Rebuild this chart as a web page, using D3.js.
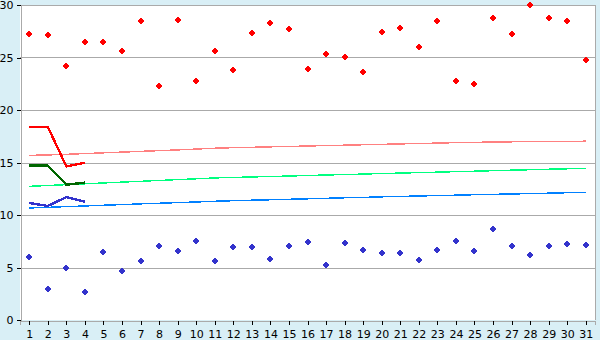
<!DOCTYPE html>
<html><head><meta charset="utf-8">
<script src="https://cdn.jsdelivr.net/npm/d3@7"></script>
<style>html,body{margin:0;padding:0;background:#d9eff6;}svg{display:block;}</style>
</head><body><div id="chart"></div>
<script>
const days = d3.range(1, 32).map(String);
const yTicks = [0, 5, 10, 15, 20, 25, 30];
const highPoints = [27.2,27.1,24.15,26.5,26.5,25.6,28.5,22.25,28.6,22.8,25.6,23.8,27.3,28.25,27.7,23.95,25.3,25.0,23.6,27.4,27.8,25.97,28.45,22.8,22.5,28.8,27.2,29.97,28.8,28.45,24.8];
const lowPoints = [5.97,3.0,5.0,2.63,6.45,4.63,5.59,7.02,6.54,7.49,5.59,6.92,6.92,5.78,7.02,7.4,5.21,7.3,6.63,6.35,6.35,5.68,6.63,7.49,6.54,8.63,7.02,6.16,7.02,7.21,7.11];
const pinkTrend = [15.68,15.72,15.78,15.85,15.92,15.99,16.06,16.13,16.2,16.28,16.36,16.41,16.45,16.49,16.53,16.57,16.61,16.65,16.69,16.73,16.77,16.81,16.85,16.89,16.92,16.95,16.97,16.99,17.01,17.02,17.03];
const greenTrend = [12.73,12.81,12.89,12.97,13.05,13.13,13.21,13.29,13.37,13.45,13.53,13.58,13.62,13.67,13.71,13.76,13.81,13.85,13.9,13.95,13.99,14.04,14.08,14.13,14.17,14.22,14.27,14.31,14.36,14.4,14.45];
const blueTrend = [10.67,10.73,10.8,10.86,10.93,10.99,11.06,11.12,11.18,11.24,11.31,11.36,11.41,11.45,11.5,11.54,11.59,11.64,11.68,11.73,11.77,11.81,11.85,11.89,11.93,11.97,12.0,12.04,12.08,12.12,12.16];
const redShort = [18.4,18.4,14.62,14.98];
const greenShort = [14.7,14.7,12.89,13.08];
const blueShort = [11.14,10.86,11.71,11.27];

const W = 600, H = 340;
const m = {left: 20, right: 5, top: 5, bottom: 20};
const svg = d3.select("#chart").append("svg").attr("width", W).attr("height", H)
  .style("font-family", "'DejaVu Sans', Verdana, sans-serif").style("font-size", "11px");
svg.append("rect").attr("width", W).attr("height", H).attr("fill", "#d9eff6");

const x = d3.scalePoint().domain(days).range([m.left, W - m.right]).padding(0.5);
const y = d3.scaleLinear().domain([0, 30]).range([H - m.bottom, m.top]);

svg.append("rect").attr("x", m.left).attr("y", m.top)
  .attr("width", W - m.right - m.left).attr("height", H - m.bottom - m.top).attr("fill", "#fff");

// grid
svg.append("g").selectAll("line").data(yTicks.slice(1)).join("line")
  .attr("x1", m.left).attr("x2", W - m.right)
  .attr("y1", d => Math.round(y(d)) + 0.5).attr("y2", d => Math.round(y(d)) + 0.5)
  .attr("stroke", "#aaaaaa").attr("stroke-width", 1).attr("shape-rendering", "crispEdges");
// right border
svg.append("line").attr("x1", W - m.right + 0.5).attr("x2", W - m.right + 0.5)
  .attr("y1", m.top).attr("y2", H - m.bottom)
  .attr("stroke", "#aaaaaa").attr("shape-rendering", "crispEdges");

// axes
const yAxis = svg.append("g").attr("transform", `translate(${m.left + 0.5},0)`)
  .call(d3.axisLeft(y).tickValues(yTicks).tickSize(4).tickPadding(3));
const xAxis = svg.append("g").attr("transform", `translate(0,${H - m.bottom + 0.5})`)
  .call(d3.axisBottom(x).tickSize(4).tickPadding(6));
[yAxis, xAxis].forEach(g => {
  g.attr("font-family", null).attr("font-size", null);
  g.select(".domain").attr("stroke", "#aaaaaa").attr("shape-rendering", "crispEdges");
  g.selectAll(".tick line").attr("stroke", "#000").attr("shape-rendering", "crispEdges");
  g.selectAll("text").attr("fill", "#000");
});

const line = d3.line().x((d, i) => x(days[i])).y(d => y(d));
function drawLine(data, color, w) {
  svg.append("path").datum(data).attr("d", line).attr("fill", "none")
    .attr("stroke", color).attr("stroke-width", w).attr("shape-rendering", "crispEdges");
}
drawLine(pinkTrend, "#ff8080", 1.4);
drawLine(greenTrend, "#00ff80", 1.4);
drawLine(blueTrend, "#0080ff", 1.4);
drawLine(redShort, "#ff0000", 2.4);
drawLine(greenShort, "#006600", 2.4);
drawLine(blueShort, "#3333cc", 2.4);

const marker = "M-1,-3H1V-1H3V1H1V3H-1V1H-3V-1H-1Z";
const core = "M-2,-2H2V2H-2Z";
function drawPoints(data, color) {
  const g = svg.append("g").selectAll("g").data(data).join("g")
    .attr("transform", (d, i) => `translate(${Math.round(x(days[i]))},${Math.round(y(d))})`);
  g.append("path").attr("d", marker).attr("fill", color).attr("shape-rendering", "crispEdges");
  g.append("path").attr("d", core).attr("fill", color).attr("shape-rendering", "crispEdges");
}
drawPoints(highPoints, "#ff0000");
drawPoints(lowPoints, "#3333cc");
</script></body></html>
